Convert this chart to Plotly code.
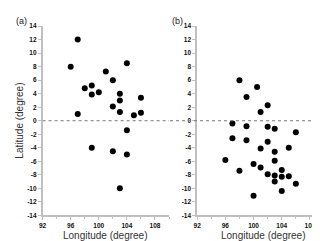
import plotly.graph_objects as go

# Panel (a)
lon_a = [97, 96, 98, 99, 99, 100, 101, 102, 104, 103, 103, 102, 103, 97, 105, 106, 106,
         104, 99, 102, 104, 103]
lat_a = [12, 8, 4.8, 5.2, 3.9, 4.2, 7.3, 6.0, 8.5, 4.0, 3.0, 2.1, 1.3, 1.0, 0.8, 1.2, 3.4,
         -1.4, -4.0, -4.5, -5.0, -10.0]

# Panel (b)
lon_b = [98, 100.5, 99, 102, 101, 97, 99, 102, 103, 106, 97, 99, 102, 101, 105, 103,
         96, 103, 100, 101, 98, 104, 102, 103, 104, 105, 103, 106, 104, 100]
lat_b = [6.0, 5.0, 3.5, 2.3, 1.3, -0.4, -0.8, -0.9, -1.2, -1.7, -2.6, -2.9, -3.1, -4.1, -4.0, -4.6,
         -5.8, -5.9, -6.4, -6.9, -7.4, -7.3, -7.9, -8.1, -8.3, -8.2, -9.0, -9.3, -10.4, -11.1]

x_ticks = [92, 96, 100, 104, 108]
x_ticktext = ["92", "96", "100", "104", "108"]
y_ticks = list(range(-14, 15, 2))
y_ticktext = [str(v) for v in y_ticks]

W, H = 320, 241
fig = go.Figure()
fig.add_trace(go.Scatter(x=lon_a, y=lat_a, mode="markers", xaxis="x", yaxis="y",
                         marker=dict(color="black", size=6), showlegend=False))
fig.add_trace(go.Scatter(x=lon_b, y=lat_b, mode="markers", xaxis="x2", yaxis="y2",
                         marker=dict(color="black", size=6), showlegend=False))

font = "Liberation Sans, Arial, sans-serif"
ydom = [1 - 209.5 / H, 1 - 14.5 / H]
axcol = "#c0c0c0"
tickf = dict(family=font, size=6.5, color="#111", weight="bold")

def xax(domain, anchor):
    return dict(domain=domain, anchor=anchor, range=[92, 110], tickvals=x_ticks, ticktext=x_ticktext,
                showline=True, linecolor=axcol, linewidth=1.5, ticks="outside", ticklen=3,
                tickcolor=axcol, tickwidth=1, showgrid=False, zeroline=False,
                minor=dict(dtick=2, tick0=92, ticks="outside", ticklen=2, tickcolor=axcol, showgrid=False),
                tickfont=tickf)

def yax(domain, anchor):
    return dict(domain=domain, anchor=anchor, range=[-14, 14], tickvals=y_ticks, ticktext=y_ticktext,
                showline=True, linecolor=axcol, linewidth=1.5, ticks="outside", ticklen=3,
                tickcolor=axcol, tickwidth=1, showgrid=False, zeroline=False,
                tickfont=tickf)

tfont = dict(family=font, size=10, color="#333")
fig.update_layout(
    width=W, height=H, margin=dict(l=0, r=0, t=0, b=0),
    plot_bgcolor="white", paper_bgcolor="white",
    xaxis=xax([31 / W, 159 / W], "y"),
    yaxis=yax(ydom, "x"),
    xaxis2=xax([187.5 / W, 316 / W], "y2"),
    yaxis2=yax(ydom, "x2"),
    shapes=[
        dict(type="line", xref="x", yref="y", x0=92, x1=110.5, y0=0, y1=0,
             line=dict(color="#777", width=1, dash="dot")),
        dict(type="line", xref="paper", yref="y2", x0=160 / W, x1=317 / W, y0=0, y1=0,
             line=dict(color="#777", width=1, dash="dot")),
    ],
    annotations=[
        dict(text="(a)", x=2 / W, y=1 - 2 / H, xref="paper", yref="paper", xanchor="left", yanchor="top",
             showarrow=False, font=dict(family=font, size=9, color="#222")),
        dict(text="(b)", x=160 / W, y=1 - 2 / H, xref="paper", yref="paper", xanchor="left", yanchor="top",
             showarrow=False, font=dict(family=font, size=9, color="#222")),
        dict(text="Longitude (degree)", x=95 / W, y=1 - 230 / H, xref="paper", yref="paper",
             xanchor="center", yanchor="middle", showarrow=False, font=tfont),
        dict(text="Longitude (degree)", x=255 / W, y=1 - 230 / H, xref="paper", yref="paper",
             xanchor="center", yanchor="middle", showarrow=False, font=tfont),
        dict(text="Latitude (degree)", x=8 / W, y=1 - 112 / H, xref="paper", yref="paper",
             xanchor="center", yanchor="middle", textangle=-90, showarrow=False, font=tfont),
    ],
)

fig.write_html("out.html")
